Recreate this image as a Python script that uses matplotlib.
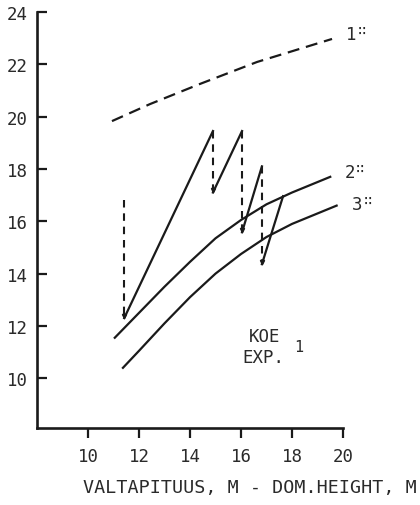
import numpy as np
import matplotlib.pyplot as plt

# 1: dashed upper curve
c1_x = [10.94, 12.43, 14.39, 16.63, 19.57]
c1_y = [19.83, 20.48, 21.25, 22.09, 22.97]

# 2: solid middle curve
c2_x = [11.05, 12.0, 13.0, 14.0, 15.0, 16.0, 17.0, 18.0, 19.5]
c2_y = [11.55, 12.5, 13.5, 14.45, 15.35, 16.05, 16.65, 17.1, 17.7]

# 3: solid lower curve
c3_x = [11.37, 12.0, 13.0, 14.0, 15.0, 16.0, 17.0, 18.0, 19.0, 19.75]
c3_y = [10.4, 11.05, 12.1, 13.1, 14.0, 14.75, 15.4, 15.9, 16.3, 16.6]

# thinning path: growth (solid) and removals (dashed drops)
path_x = [11.42, 11.42, 14.9, 14.9, 16.04, 16.04, 16.82, 16.82, 17.65]
path_y = [16.8, 12.3, 19.45, 17.1, 19.45, 15.58, 18.1, 14.36, 16.96]

x_ticks = [10, 12, 14, 16, 18, 20]
y_ticks = [10, 12, 14, 16, 18, 20, 22, 24]

plt.rcParams['font.family'] = 'DejaVu Sans Mono'
ink = '#1a1a1a'
txt = '#2a2a2a'
fs = 12.5

fig = plt.figure(figsize=(4.2, 5.06), dpi=100)
ax = fig.add_axes([37 / 420, 1 - 429 / 506, 306 / 420, 416 / 506])

lw = 1.6
ax.plot(c1_x, c1_y, color=ink, lw=lw, dashes=(5.4, 3.1))
ax.plot(c2_x, c2_y, color=ink, lw=lw)
ax.plot(c3_x, c3_y, color=ink, lw=lw)

for i in range(len(path_x) - 1):
    seg_x = path_x[i:i + 2]
    seg_y = path_y[i:i + 2]
    if i % 2 == 0:
        ax.plot(seg_x, seg_y, color=ink, lw=1.5, dashes=(3.6, 2.8))
        ax.plot(seg_x[1], seg_y[1] + 0.08, marker='v', color=ink, ms=3)
    else:
        ax.plot(seg_x, seg_y, color=ink, lw=lw)

# curve labels
for lab, lx, ly in [('1', 20.12, 23.16), ('2', 20.05, 17.88), ('3', 20.36, 16.65)]:
    ax.text(lx, ly, lab, fontsize=fs, color=txt, ha='left', va='center', clip_on=False)
    ax.annotate('\u2237', (lx, ly), xytext=(8.5, 3), textcoords='offset points',
                fontsize=10, color=txt, ha='left', va='center', annotation_clip=False)

ax.text(16.94, 11.6, 'KOE', fontsize=fs, color=txt, ha='center', va='center')
ax.text(16.86, 10.8, 'EXP.', fontsize=fs, color=txt, ha='center', va='center')
ax.text(18.27, 11.2, '1', fontsize=fs - 1.5, color=txt, ha='center', va='center')

ax.set_xlim(8, 20)
ax.set_ylim(8.1, 24)
ax.set_xticks(x_ticks)
ax.set_yticks(y_ticks)
ax.spines['top'].set_visible(False)
ax.spines['right'].set_visible(False)
for s in ['left', 'bottom']:
    ax.spines[s].set_linewidth(1.9)
    ax.spines[s].set_color(ink)
ax.tick_params(axis='y', direction='in', length=7, width=1.6, pad=6.5,
               labelsize=fs, colors=ink, labelcolor=txt)
ax.tick_params(axis='x', direction='out', length=7, width=1.6, pad=7,
               labelsize=fs, colors=ink, labelcolor=txt)

fig.text(250 / 420, 1 - 488 / 506, 'VALTAPITUUS, M - DOM.HEIGHT, M',
         fontsize=13.2, color=txt, ha='center', va='center')

fig.savefig('out.png', dpi=100)
